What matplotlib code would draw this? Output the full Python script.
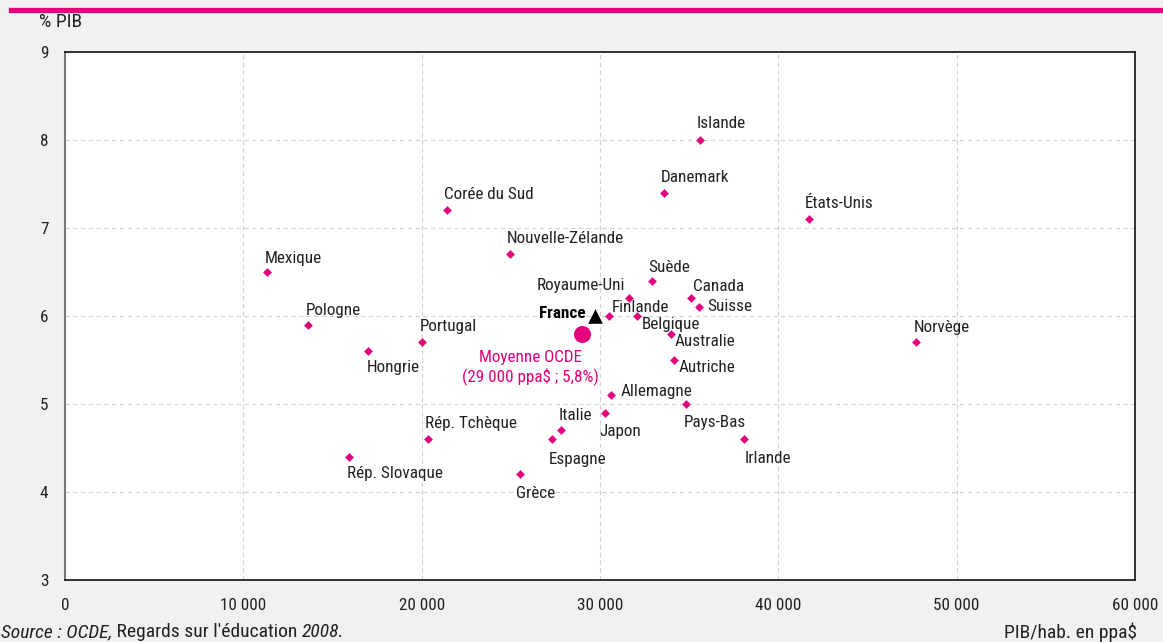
import matplotlib
matplotlib.use("Agg")
import matplotlib.pyplot as plt

# --- data ---
pays = ["Islande", "Danemark", "États-Unis", "Corée du Sud", "Nouvelle-Zélande",
        "Mexique", "Pologne", "Portugal", "Hongrie", "Royaume-Uni", "Suède",
        "Canada", "Suisse", "Finlande", "Belgique", "Australie", "Autriche",
        "Allemagne", "Pays-Bas", "Irlande", "Japon", "Italie", "Espagne",
        "Grèce", "Rép. Tchèque", "Rép. Slovaque", "Norvège"]
pib_hab = [35600, 33600, 41700, 21400, 24950,
           11300, 13600, 20000, 17000, 31600, 32900,
           35100, 35550, 30500, 32100, 34000, 34150,
           30600, 34800, 38100, 30300, 27800, 27300,
           25500, 20350, 15900, 47700]
depense = [8.0, 7.4, 7.1, 7.2, 6.7,
           6.5, 5.9, 5.7, 5.6, 6.2, 6.4,
           6.2, 6.1, 6.0, 6.0, 5.8, 5.5,
           5.1, 5.0, 4.6, 4.9, 4.7, 4.6,
           4.2, 4.6, 4.4, 5.7]
france = (29700, 6.0)
moyenne_ocde = (29000, 5.8)

x_ticks = [0, 10000, 20000, 30000, 40000, 50000, 60000]
y_ticks = [3, 4, 5, 6, 7, 8, 9]

# label position relative to the point, in pixels (dx, dy up, ha)
offsets = {
    "Islande": (-3, 17, "left"),
    "Danemark": (-3, 15, "left"),
    "États-Unis": (-4, 16, "left"),
    "Corée du Sud": (-3, 16, "left"),
    "Nouvelle-Zélande": (-3, 16, "left"),
    "Mexique": (-2, 14, "left"),
    "Pologne": (-2, 14, "left"),
    "Portugal": (-2, 16, "left"),
    "Hongrie": (-1, -16, "left"),
    "Royaume-Uni": (-4, 13, "right"),
    "Suède": (-3, 13, "left"),
    "Canada": (2, 12, "left"),
    "Suisse": (8, 1, "left"),
    "Finlande": (3, 9, "left"),
    "Belgique": (4, -8, "left"),
    "Australie": (3, -8, "left"),
    "Autriche": (5, -7, "left"),
    "Allemagne": (10, 4, "left"),
    "Pays-Bas": (-2, -18, "left"),
    "Irlande": (0, -19, "left"),
    "Japon": (-6, -19, "left"),
    "Italie": (-2, 15, "left"),
    "Espagne": (-3, -20, "left"),
    "Grèce": (-4, -19, "left"),
    "Rép. Tchèque": (-3, 16, "left"),
    "Rép. Slovaque": (-2, -17, "left"),
    "Norvège": (-2, 15, "left"),
}
px = 0.72  # points per pixel at 100 dpi

rose = "#e4007c"
texte = "#222222"

plt.rcParams["font.family"] = ["Roboto Condensed", "DejaVu Sans"]
plt.rcParams["font.weight"] = "normal"
fs = 12.3
fs_bas = 14

fig = plt.figure(figsize=(11.63, 6.42), dpi=100)
fig.patch.set_facecolor("#f1f1f1")

# pink band on top
fig.add_artist(plt.Line2D([11 / 1163, 1], [1 - 9.5 / 642, 1 - 9.5 / 642],
                          transform=fig.transFigure, color=rose, lw=3.8))

ax = fig.add_axes([65 / 1163, 62 / 642, 1070 / 1163, 528 / 642])
ax.set_facecolor("white")
ax.set_xlim(0, 60000)
ax.set_ylim(3, 9)
ax.set_xticks(x_ticks)
ax.set_yticks(y_ticks)
ax.set_xticklabels(["0" if v == 0 else f"{v // 1000} 000" for v in x_ticks], fontsize=fs, color=texte)
ax.set_yticklabels([str(v) for v in y_ticks], fontsize=fs, color=texte)
ax.tick_params(length=0)
ax.tick_params(axis="x", pad=13)
ax.tick_params(axis="y", pad=12)
ax.grid(True, color="#d0d0d0", linestyle=(0, (4, 3)), lw=0.8)
ax.set_axisbelow(True)
for s in ["top", "right", "bottom"]:
    ax.spines[s].set_color("#111111")
    ax.spines[s].set_linewidth(1.2)
ax.spines["left"].set_color("#777777")
ax.spines["left"].set_linewidth(1.5)

ax.scatter(pib_hab, depense, marker="D", s=20, color=rose, zorder=3, linewidths=0)
for nom, x, y in zip(pays, pib_hab, depense):
    dx, dy, ha = offsets[nom]
    ax.annotate(nom, (x, y), xytext=(dx * px, dy * px), textcoords="offset points",
                ha=ha, va="center", fontsize=fs, color=texte)

ax.scatter([france[0]], [france[1]], marker="^", s=110, color="black", zorder=4, linewidths=0)
ax.annotate("France", france, xytext=(-9 * px, 3 * px), textcoords="offset points",
            ha="right", va="center", fontsize=fs, fontweight="bold", color="black")

ax.scatter([moyenne_ocde[0]], [moyenne_ocde[1]], marker="o", s=150, color=rose, zorder=4, linewidths=0)
ax.annotate("Moyenne OCDE\n(29 000 ppa$ ; 5,8%)", moyenne_ocde, xytext=(-52 * px, -34 * px),
            textcoords="offset points", ha="center", va="center", fontsize=fs,
            color=rose, linespacing=1.2)

fig.text(39 / 1163, 1 - 22 / 642, "% PIB", fontsize=fs_bas, color=texte, ha="left", va="center")
fig.text(1137 / 1163, 1 - 632 / 642, "PIB/hab. en ppa$", fontsize=fs_bas, color=texte,
         ha="right", va="center")

t1 = fig.text(1 / 1163, 1 - 632 / 642, "Source : OCDE,", fontsize=fs_bas, color=texte,
              style="italic", ha="left", va="center")
a2 = ax.annotate(" Regards sur l'éducation ", xy=(1, 0), xycoords=t1, ha="left", va="bottom",
                 fontsize=fs_bas, color=texte, annotation_clip=False)
a3 = ax.annotate("2008.", xy=(1, 0), xycoords=a2, ha="left", va="bottom",
                 fontsize=fs_bas, color=texte, style="italic", annotation_clip=False)

fig.savefig("out.png", dpi=100, facecolor=fig.get_facecolor())
